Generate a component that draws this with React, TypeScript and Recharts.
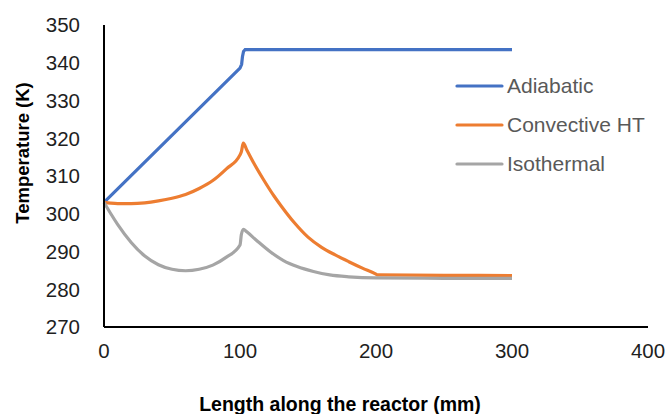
import React from "react";
import { LineChart, Line, XAxis, YAxis } from "recharts";

// Axial temperature profiles for three thermal operating modes
const adiabaticX = [0, 100, 101.2, 101.8, 102.6, 103.8, 150, 200, 250, 300];
const adiabaticT = [303, 338.6, 339.6, 341.6, 343.0, 343.5, 343.5, 343.5, 343.5, 343.5];

const convectiveX = [0, 5, 10, 20, 30, 40, 50, 60, 70, 80, 90, 100, 101, 102.4, 105, 110, 117, 125, 130, 140, 150, 160, 170, 180, 190, 200, 201, 250, 300];
const convectiveT = [303, 302.8, 302.7, 302.7, 302.9, 303.4, 304.1, 305.1, 306.7, 308.8, 311.9, 315.6, 316.4, 318.7, 316.9, 313.5, 309.2, 304.7, 302.2, 297.6, 293.8, 291.1, 289.1, 287.3, 285.6, 284.0, 283.8, 283.7, 283.6];

const isothermalX = [0, 5, 10, 20, 30, 40, 50, 60, 70, 80, 90, 100, 101, 102.5, 105, 112, 122, 132, 142, 154, 166, 180, 200, 250, 300];
const isothermalT = [303, 300.0, 297.2, 292.4, 288.8, 286.5, 285.3, 284.9, 285.3, 286.4, 288.5, 291.7, 294.5, 295.9, 295.2, 293.0, 290.0, 287.6, 286.0, 284.7, 283.8, 283.3, 283.0, 282.9, 282.9];

const xTicks = [0, 100, 200, 300, 400];
const yTicks = [270, 280, 290, 300, 310, 320, 330, 340, 350];

const seriesNames = ["Adiabatic", "Convective HT", "Isothermal"];
const seriesColors = ["#4472C4", "#ED7D31", "#A5A5A5"];
const seriesCurves = ["linear", "monotone", "monotone"] as const;

const toPoints = (xs: number[], ts: number[]) => xs.map((x, i) => ({ x, t: ts[i] }));

const series = [
  toPoints(adiabaticX, adiabaticT),
  toPoints(convectiveX, convectiveT),
  toPoints(isothermalX, isothermalT),
];

const FONT = "'Liberation Sans', Arial, sans-serif";

const LegendBox = () => (
  <div style={{ position: "absolute", left: 455, top: 66, fontFamily: FONT }}>
    {seriesNames.map((name, i) => (
      <div key={name} style={{ display: "flex", alignItems: "center", height: 39 }}>
        <svg width={52} height={6} style={{ display: "block" }}>
          <line x1={2} y1={3} x2={47} y2={3} stroke={seriesColors[i]} strokeWidth={3.2} strokeLinecap="round" />
        </svg>
        <span style={{ fontSize: 21, color: "#595959", whiteSpace: "nowrap", lineHeight: "21px" }}>{name}</span>
      </div>
    ))}
  </div>
);

export default function App() {
  return (
    <div style={{ position: "absolute", left: 0, top: 0, width: 670, height: 414, background: "#fff" }}>
      <LineChart width={670} height={414} margin={{ top: 25, right: 22, left: 24, bottom: 27 }}>
        <XAxis
          dataKey="x"
          type="number"
          domain={[0, 400]}
          ticks={xTicks}
          interval={0}
          allowDuplicatedCategory={false}
          height={60}
          tickLine={false}
          tickSize={0}
          tickMargin={16}
          axisLine={{ stroke: "#000", strokeWidth: 2 }}
          tick={{ fill: "#1f1f1f", fontSize: 20.5, fontFamily: FONT }}
          label={{
            content: () => (
              <text x={340} y={411} textAnchor="middle" fontFamily={FONT} fontWeight="bold" fontSize={19.5} fill="#000">
                Length along the reactor (mm)
              </text>
            ),
          }}
        />
        <XAxis xAxisId="top" orientation="top" type="number" domain={[0, 400]} height={0} tick={false} tickLine={false} axisLine={{ stroke: "#555", strokeWidth: 1.5 }} />
        <YAxis
          type="number"
          domain={[270, 350]}
          ticks={yTicks}
          interval={0}
          width={80}
          tickLine={false}
          tickSize={0}
          tickMargin={24}
          axisLine={{ stroke: "#000", strokeWidth: 2 }}
          tick={{ fill: "#1f1f1f", fontSize: 20.5, fontFamily: FONT }}
          label={{
            content: () => (
              <text
                x={22}
                y={153}
                transform="rotate(-90 22 153)"
                textAnchor="middle"
                dominantBaseline="central"
                fontFamily={FONT}
                fontWeight="bold"
                fontSize={18.5}
                fill="#000"
              >
                Temperature (K)
              </text>
            ),
          }}
        />
        <YAxis yAxisId="right" orientation="right" type="number" domain={[270, 350]} width={0} tick={false} tickLine={false} axisLine={{ stroke: "#000", strokeWidth: 1.5 }} />
        {series.map((pts, i) => (
          <Line
            key={seriesNames[i]}
            name={seriesNames[i]}
            data={pts}
            dataKey="t"
            type={seriesCurves[i]}
            stroke={seriesColors[i]}
            strokeWidth={3.2}
            dot={false}
            activeDot={false}
            isAnimationActive={false}
          />
        ))}
      </LineChart>
      <LegendBox />
    </div>
  );
}
